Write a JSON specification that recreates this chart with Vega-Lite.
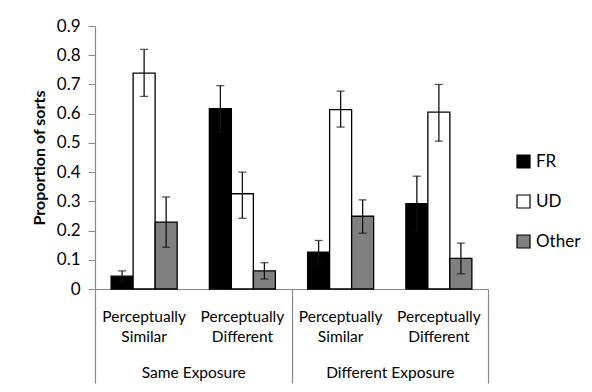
{
  "$schema": "https://vega.github.io/schema/vega-lite/v6.json",
  "autosize": "none",
  "width": 393,
  "height": 263,
  "padding": {"left": 95, "top": 26, "right": 104, "bottom": 103},
  "background": "white",
  "config": {
    "view": {"stroke": null},
    "font": "Lato",
    "axis": {"labelFont": "Lato", "titleFont": "Lato", "labelColor": "#000", "titleColor": "#000", "domainColor": "#888", "tickColor": "#888", "grid": false},
    "axisY": {"titleFontSize": 16, "titleFontWeight": "bold", "titlePadding": 9, "titleAnchor": "middle", "titleAlign": "center", "titleBaseline": "bottom", "titleY": 131.5, "labelFontSize": 17, "labelPadding": 8, "tickSize": 7, "labelOverlap": false, "tickCount": 9, "domainWidth": 1.2, "format": ".1~f"}
  },
  "data": {
    "values": [
      {"cell": "Same Exposure / Perceptually Similar", "exposure": "Same Exposure", "series": "FR", "value": 0.044, "lo": 0.026, "hi": 0.062},
      {"cell": "Same Exposure / Perceptually Similar", "exposure": "Same Exposure", "series": "UD", "value": 0.739, "lo": 0.659, "hi": 0.82},
      {"cell": "Same Exposure / Perceptually Similar", "exposure": "Same Exposure", "series": "Other", "value": 0.229, "lo": 0.143, "hi": 0.315},
      {"cell": "Same Exposure / Perceptually Different", "exposure": "Same Exposure", "series": "FR", "value": 0.617, "lo": 0.538, "hi": 0.696},
      {"cell": "Same Exposure / Perceptually Different", "exposure": "Same Exposure", "series": "UD", "value": 0.326, "lo": 0.242, "hi": 0.4},
      {"cell": "Same Exposure / Perceptually Different", "exposure": "Same Exposure", "series": "Other", "value": 0.062, "lo": 0.034, "hi": 0.09},
      {"cell": "Different Exposure / Perceptually Similar", "exposure": "Different Exposure", "series": "FR", "value": 0.126, "lo": 0.086, "hi": 0.166},
      {"cell": "Different Exposure / Perceptually Similar", "exposure": "Different Exposure", "series": "UD", "value": 0.614, "lo": 0.554, "hi": 0.677},
      {"cell": "Different Exposure / Perceptually Similar", "exposure": "Different Exposure", "series": "Other", "value": 0.249, "lo": 0.191, "hi": 0.305},
      {"cell": "Different Exposure / Perceptually Different", "exposure": "Different Exposure", "series": "FR", "value": 0.292, "lo": 0.198, "hi": 0.386},
      {"cell": "Different Exposure / Perceptually Different", "exposure": "Different Exposure", "series": "UD", "value": 0.605, "lo": 0.506, "hi": 0.7},
      {"cell": "Different Exposure / Perceptually Different", "exposure": "Different Exposure", "series": "Other", "value": 0.105, "lo": 0.052, "hi": 0.157}
    ]
  },
  "layer": [
    {
      "mark": {"type": "bar", "stroke": "#000", "strokeWidth": 1.3},
      "encoding": {
        "x": {
          "field": "cell", "type": "nominal", "sort": null,
          "scale": {"paddingInner": 0.328, "paddingOuter": 0.164},
          "axis": {
            "orient": "bottom", "title": null, "ticks": false, "labelAngle": 0,
            "labelExpr": "split(split(datum.label, ' / ')[1], ' ')",
            "labelFontSize": 15.5, "labelLineHeight": 20, "labelPadding": 20,
            "domainColor": "#888", "domainWidth": 1.2
          }
        },
        "xOffset": {"field": "series", "type": "nominal", "sort": ["FR", "UD", "Other"], "scale": {"paddingInner": 0, "paddingOuter": 0}},
        "y": {
          "field": "value", "type": "quantitative",
          "scale": {"domain": [0, 0.9], "nice": false, "zero": true},
          "axis": {"title": "Proportion of sorts"}
        },
        "fill": {
          "field": "series", "type": "nominal", "sort": ["FR", "UD", "Other"],
          "scale": {"domain": ["FR", "UD", "Other"], "range": ["#000000", "#ffffff", "#808080"]},
          "legend": {
            "title": null, "orient": "none", "legendX": 420, "legendY": 127,
            "symbolType": "square", "symbolSize": 169, "symbolStrokeColor": "#000", "symbolStrokeWidth": 1.2,
            "labelFontSize": 17, "labelFont": "Lato", "labelColor": "#000", "labelOffset": 4,
            "rowPadding": 21, "padding": 0
          }
        }
      }
    },
    {
      "mark": {"type": "rule", "color": "#111", "strokeWidth": 1.3},
      "encoding": {
        "x": {"field": "cell", "type": "nominal", "sort": null, "scale": {"paddingInner": 0.328, "paddingOuter": 0.164}, "axis": null},
        "xOffset": {"field": "series", "type": "nominal", "sort": ["FR", "UD", "Other"], "scale": {"paddingInner": 0, "paddingOuter": 0}},
        "y": {"field": "lo", "type": "quantitative", "axis": {"title": "Proportion of sorts"}},
        "y2": {"field": "hi"}
      }
    },
    {
      "mark": {"type": "tick", "orient": "horizontal", "color": "#111", "size": 8, "thickness": 1.3},
      "encoding": {
        "x": {"field": "cell", "type": "nominal", "sort": null, "scale": {"paddingInner": 0.328, "paddingOuter": 0.164}, "axis": null},
        "xOffset": {"field": "series", "type": "nominal", "sort": ["FR", "UD", "Other"], "scale": {"paddingInner": 0, "paddingOuter": 0}},
        "y": {"field": "lo", "type": "quantitative", "axis": {"title": "Proportion of sorts"}}
      }
    },
    {
      "mark": {"type": "tick", "orient": "horizontal", "color": "#111", "size": 8, "thickness": 1.3},
      "encoding": {
        "x": {"field": "cell", "type": "nominal", "sort": null, "scale": {"paddingInner": 0.328, "paddingOuter": 0.164}, "axis": null},
        "xOffset": {"field": "series", "type": "nominal", "sort": ["FR", "UD", "Other"], "scale": {"paddingInner": 0, "paddingOuter": 0}},
        "y": {"field": "hi", "type": "quantitative", "axis": {"title": "Proportion of sorts"}}
      }
    },
    {
      "mark": {"type": "point", "opacity": 0},
      "encoding": {
        "x": {
          "field": "exposure", "type": "nominal", "sort": null,
          "scale": {"paddingInner": 0, "paddingOuter": 0},
          "axis": {
            "orient": "bottom", "title": null, "domain": false, "labelAngle": 0,
            "tickBand": "extent", "tickSize": 94, "tickColor": "#888", "tickWidth": 1.2,
            "labelFontSize": 15.5, "labelPadding": -18, "labelBaseline": "top"
          }
        },
        "y": {"field": "value", "type": "quantitative", "axis": {"title": "Proportion of sorts"}}
      }
    }
  ],
  "resolve": {"scale": {"x": "independent"}, "axis": {"x": "independent"}}
}
